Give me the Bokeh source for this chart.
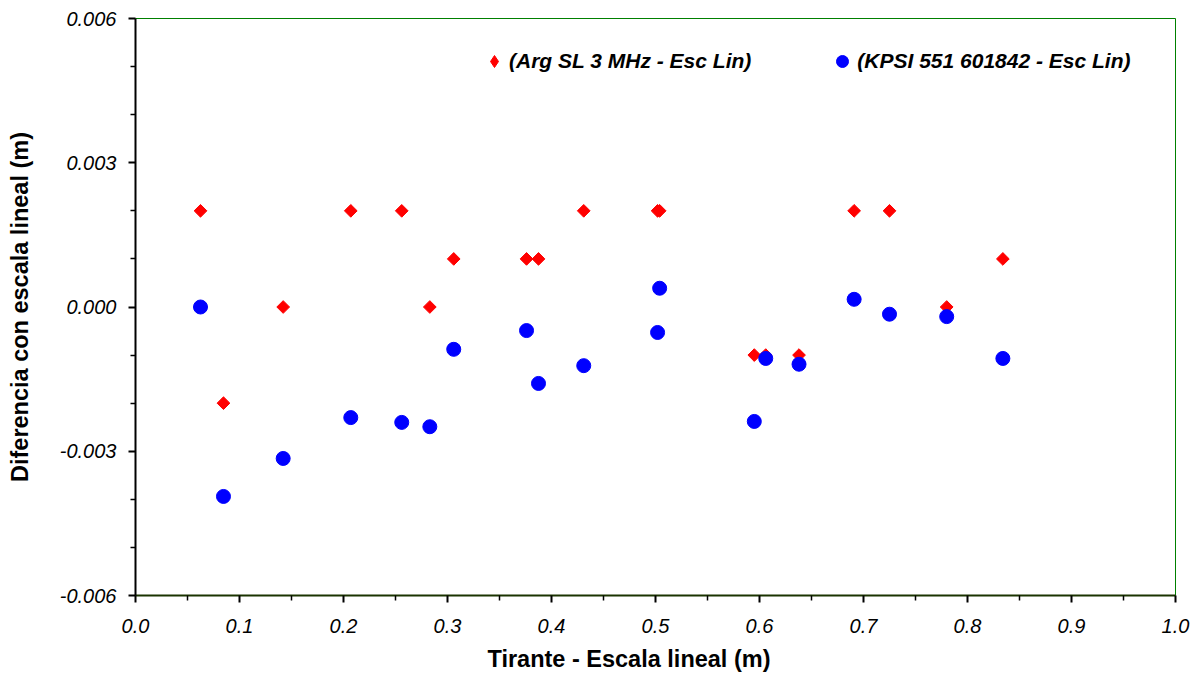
import numpy as np
from bokeh.plotting import figure
from bokeh.models import Range1d, FixedTicker, NumeralTickFormatter, Legend, LegendItem, Title
from bokeh.embed import file_html
from bokeh.resources import INLINE

# Data
x_arg = [0.0625, 0.0846, 0.142, 0.207, 0.256, 0.283, 0.306, 0.376, 0.3875, 0.431, 0.502, 0.504,
         0.595, 0.606, 0.638, 0.691, 0.725, 0.780, 0.834]
y_arg = [0.002, -0.002, 0.0, 0.002, 0.002, 0.0, 0.001, 0.001, 0.001, 0.002, 0.002, 0.002,
         -0.001, -0.001, -0.001, 0.002, 0.002, 0.0, 0.001]
x_kpsi = [0.0625, 0.0846, 0.142, 0.207, 0.256, 0.283, 0.306, 0.376, 0.3875, 0.431, 0.502, 0.504,
          0.595, 0.606, 0.638, 0.691, 0.725, 0.780, 0.834]
y_kpsi = [0.0, -0.00394, -0.00315, -0.0023, -0.0024, -0.00249, -0.00088, -0.00049, -0.00159, -0.00122,
          -0.00053, 0.00039, -0.00238, -0.00107, -0.00119, 0.00016, -0.00015, -0.0002, -0.00107]

x_major = [0.0, 0.1, 0.2, 0.3, 0.4, 0.5, 0.6, 0.7, 0.8, 0.9, 1.0]
x_minor = [0.05, 0.15, 0.25, 0.35, 0.45, 0.55, 0.65, 0.75, 0.85, 0.95]
y_major = [-0.006, -0.003, 0.0, 0.003, 0.006]
y_minor = [-0.005, -0.004, -0.002, -0.001, 0.001, 0.002, 0.004, 0.005]

label_arg = "(Arg SL 3 MHz - Esc Lin)"
label_kpsi = "(KPSI 551 601842 - Esc Lin)"
x_title = "Tirante - Escala lineal  (m)"
y_title = "Diferencia con escala lineal (m)"

p = figure(width=1200, height=679, output_backend="svg", toolbar_location=None,
           x_range=Range1d(0, 1), y_range=Range1d(-0.006, 0.006),
           min_border_left=135, min_border_right=25, min_border_top=18, min_border_bottom=84)
p.xgrid.visible = False
p.ygrid.visible = False
p.outline_line_color = "#008000"
p.outline_line_width = 1
p.background_fill_color = "white"
p.border_fill_color = "white"

r1 = p.scatter(x_arg, y_arg, marker="square", angle=np.pi / 4, size=9,
               fill_color="#ff0000", line_color="#ff0000")
r2 = p.scatter(x_kpsi, y_kpsi, marker="circle", size=14,
               fill_color="#0000ff", line_color="#0000ff")
# legend-only glyph (diamond); its point is not drawn on the plot
r1_leg = p.scatter(x=np.array([np.nan]), y=np.array([np.nan]), marker="diamond", size=12,
                   fill_color="#ff0000", line_color="#ff0000")

for ax, maj, mn, fmt in ((p.xaxis[0], x_major, x_minor, "0.0"), (p.yaxis[0], y_major, y_minor, "0.000")):
    ax.ticker = FixedTicker(ticks=maj, minor_ticks=mn)
    ax.formatter = NumeralTickFormatter(format=fmt)
    ax.major_tick_out = 7
    ax.major_tick_in = 0
    ax.minor_tick_out = 5
    ax.minor_tick_in = 0
    ax.axis_line_color = "black"
    ax.axis_line_width = 2
    ax.major_tick_line_width = 2
    ax.minor_tick_line_width = 1.5
    ax.major_label_text_font = "Liberation Sans"
    ax.major_label_text_font_style = "italic"
    ax.major_label_text_font_size = "20px"
    ax.major_label_text_color = "black"
    ax.axis_label_text_font = "Liberation Sans"
    ax.axis_label_text_font_style = "bold"
    ax.axis_label_text_font_size = "23.5px"
    ax.axis_label_text_color = "black"

p.yaxis.axis_label = y_title
p.xaxis.major_label_standoff = 16
p.yaxis.major_label_standoff = 12
p.yaxis.axis_label_standoff = 24
p.xaxis.axis_line_color = "#1a3300"

xt = Title(text=x_title, align="left", offset=352, standoff=16,
           text_font="Liberation Sans", text_font_style="bold", text_font_size="23.5px",
           text_color="black")
p.add_layout(xt, "below")

legend = Legend(items=[LegendItem(label=label_arg, renderers=[r1_leg]),
                       LegendItem(label=label_kpsi, renderers=[r2])],
                orientation="horizontal", location=(344, 519),
                border_line_alpha=0, background_fill_alpha=0,
                padding=0, margin=0, spacing=76, glyph_width=30, glyph_height=30,
                label_standoff=0,
                label_text_font="Liberation Sans", label_text_font_style="bold italic",
                label_text_font_size="21px", label_text_color="black")
p.add_layout(legend)

open("out.html", "w").write(file_html(p, INLINE))
